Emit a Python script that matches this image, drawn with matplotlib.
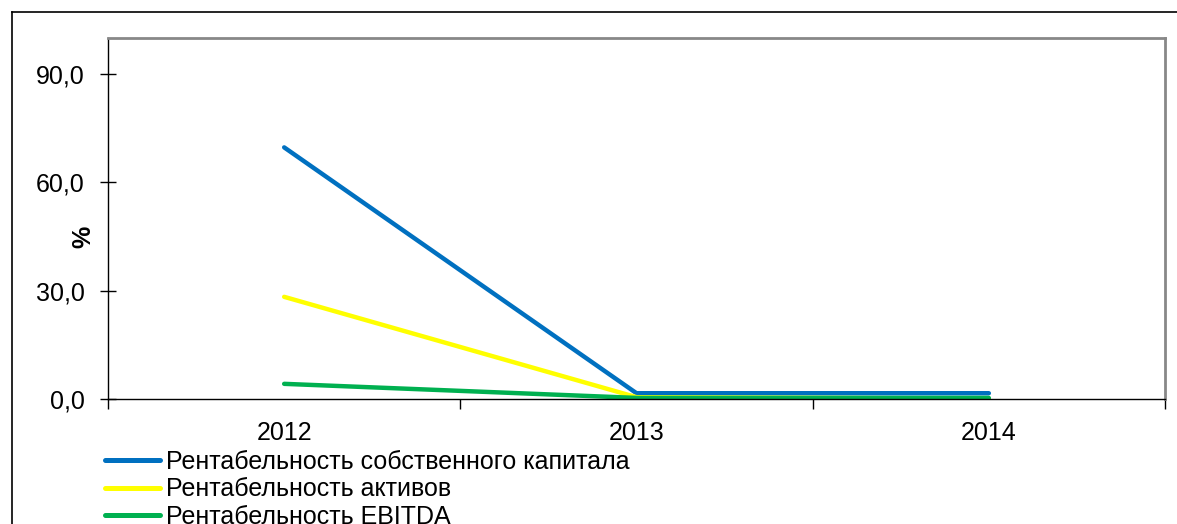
import matplotlib.pyplot as plt
from matplotlib.lines import Line2D
from matplotlib.ticker import FixedLocator, FuncFormatter

plt.rcParams['font.family'] = ['Liberation Sans', 'DejaVu Sans']

years = ['2012', '2013', '2014']
roe = [69.7, 1.6, 1.6]
roa = [28.3, 0.5, 0.1]
ebitda = [4.2, 0.3, 0.3]
labels = ['Рентабельность собственного капитала',
          'Рентабельность активов',
          'Рентабельность EBITDA']
colors = ['#0070c0', '#ffff00', '#00b050']

W, H = 1177, 524
fig = plt.figure(figsize=(W / 100, H / 100), dpi=100)
ax = fig.add_axes([108 / W, 1 - 399 / H, (1165 - 108) / W, (399 - 38) / H])

x = range(len(years))
lines = []
for vals, c in zip([roe, roa, ebitda], colors):
    ln, = ax.plot(x, vals, color=c, lw=3.2, solid_capstyle='round')
    lines.append(ln)

ax.set_xlim(-0.5, 2.5)
ax.set_ylim(0, 100)
ax.yaxis.set_major_locator(FixedLocator([0, 30, 60, 90]))
ax.yaxis.set_major_formatter(FuncFormatter(lambda v, p: f'{v:.1f}'.replace('.', ',')))
ax.set_xticks([0, 1, 2])
ax.set_xticklabels(years)
ax.xaxis.set_minor_locator(FixedLocator([-0.5, 0.5, 1.5, 2.5]))
ax.tick_params(axis='x', which='major', length=0, labelsize=18, pad=16)
ax.tick_params(axis='x', which='minor', length=7, width=1, direction='out')
ax.tick_params(axis='y', length=12, width=1, direction='inout', labelsize=18, pad=11)
ax.set_ylabel('%', fontsize=18, fontweight='bold')
ax.yaxis.set_label_coords(-0.012, 0.449)

for s in ['top', 'right']:
    ax.spines[s].set_color('#888888')
    ax.spines[s].set_linewidth(2)
for s in ['left', 'bottom']:
    ax.spines[s].set_color('black')
    ax.spines[s].set_linewidth(1)

leg = fig.legend(lines, labels, loc='upper left', bbox_to_anchor=(105 / W, 1 - 450 / H),
                 frameon=False, fontsize=18, handlelength=2.2, handletextpad=0.22,
                 labelspacing=0.14, borderpad=0, borderaxespad=0)
for hl in leg.get_lines():
    hl.set_linewidth(3.6)
    hl.set_solid_capstyle('round')

# outer chart frame
fig.add_artist(Line2D([12 / W, 1], [1 - 12 / H, 1 - 12 / H], transform=fig.transFigure,
                      color='black', lw=1.2))
fig.add_artist(Line2D([12 / W, 12 / W], [1 - 12 / H, 0], transform=fig.transFigure,
                      color='black', lw=1.2))

fig.savefig('out.png', dpi=100)
